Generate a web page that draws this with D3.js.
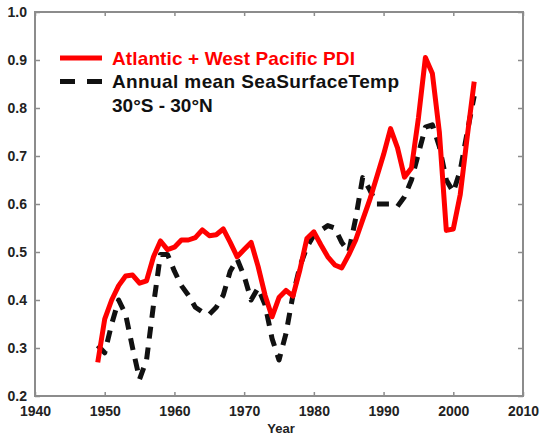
<!DOCTYPE html>
<html>
<head>
<meta charset="utf-8">
<script src="https://cdn.jsdelivr.net/npm/d3@7/dist/d3.min.js"></script>
<style>
  html, body { margin: 0; padding: 0; background: #fff; }
  svg { display: block; }
  text { font-family: "Liberation Sans", Arial, sans-serif; }
</style>
</head>
<body>
<svg id="chart" width="541" height="439"></svg>
<script>
// ---- data ----
const pdiYears = d3.range(1949, 2004);
const pdiValues = [
  0.27, 0.36, 0.40, 0.43, 0.45, 0.452, 0.435, 0.44, 0.49, 0.523,
  0.505, 0.51, 0.525, 0.525, 0.53, 0.546, 0.534, 0.536, 0.548, 0.52,
  0.49, 0.505, 0.52, 0.47, 0.41, 0.365, 0.405, 0.42, 0.408, 0.463,
  0.528, 0.542, 0.515, 0.49, 0.473, 0.467, 0.494, 0.525, 0.567, 0.608,
  0.655, 0.703, 0.757, 0.717, 0.656, 0.675, 0.779, 0.905, 0.872, 0.75,
  0.545, 0.548, 0.62, 0.74, 0.855
];
const sstYears = d3.range(1949, 2004);
const sstValues = [
  0.305, 0.29, 0.35, 0.40, 0.37, 0.30, 0.235, 0.275, 0.39, 0.495,
  0.495, 0.46, 0.43, 0.41, 0.385, 0.375, 0.37, 0.385, 0.41, 0.46,
  0.485, 0.45, 0.40, 0.425, 0.39, 0.32, 0.275, 0.33, 0.41, 0.47,
  0.51, 0.535, 0.545, 0.555, 0.55, 0.52, 0.50, 0.57, 0.655, 0.63,
  0.60, 0.60, 0.60, 0.595, 0.615, 0.65, 0.705, 0.76, 0.765, 0.72,
  0.65, 0.625, 0.67, 0.75, 0.825
];
const xTicks = [1940, 1950, 1960, 1970, 1980, 1990, 2000, 2010];
const yTicks = [0.2, 0.3, 0.4, 0.5, 0.6, 0.7, 0.8, 0.9, 1.0];
const legendLabels = ["Atlantic + West Pacific PDI", "Annual mean SeaSurfaceTemp", "30\u00B0S - 30\u00B0N"];
const xLabel = "Year";

// ---- layout ----
const svg = d3.select("#chart");
const L = 35, R = 523, T = 12, B = 396;
const x = d3.scaleLinear().domain([1940, 2010]).range([L, R]);
const y = d3.scaleLinear().domain([0.2, 1.0]).range([B, T]);
const frameColor = "#8c8c8c";
const red = "#ff0000";
const black = "#111111";

// axes (ticks inward, mirrored)
const gx = svg.append("g").attr("transform", `translate(0,${B})`)
  .call(d3.axisBottom(x).tickValues(xTicks).tickFormat(d3.format("d")).tickSizeInner(-4).tickSizeOuter(0).tickPadding(10));
const gxTop = svg.append("g").attr("transform", `translate(0,${T})`)
  .call(d3.axisTop(x).tickValues(xTicks).tickFormat("").tickSizeInner(-4).tickSizeOuter(0));
const gy = svg.append("g").attr("transform", `translate(${L},0)`)
  .call(d3.axisLeft(y).tickValues(yTicks).tickFormat(d3.format(".1f")).tickSizeInner(-5).tickSizeOuter(0).tickPadding(8));
const gyR = svg.append("g").attr("transform", `translate(${R},0)`)
  .call(d3.axisRight(y).tickValues(yTicks).tickFormat("").tickSizeInner(-5).tickSizeOuter(0));

[gx, gxTop, gy, gyR].forEach(g => {
  g.select(".domain").remove();
  g.selectAll(".tick line").attr("stroke", frameColor).attr("stroke-width", 1.5);
  g.selectAll(".tick text").attr("fill", "#222").attr("font-size", 14).attr("font-weight", "bold")
    .attr("font-family", "'Liberation Sans', Arial, sans-serif");
});

// frame
svg.append("rect").attr("x", L).attr("y", T).attr("width", R - L).attr("height", B - T)
  .attr("fill", "none").attr("stroke", frameColor).attr("stroke-width", 2);

// lines
const pdiData = pdiYears.map((yr, i) => [yr, pdiValues[i]]);
const sstData = sstYears.map((yr, i) => [yr, sstValues[i]]);
const line = d3.line().x(d => x(d[0])).y(d => y(d[1])).curve(d3.curveLinear);

svg.append("path").datum(sstData).attr("d", line)
  .attr("fill", "none").attr("stroke", black).attr("stroke-width", 5)
  .attr("stroke-dasharray", "12,9").attr("stroke-linejoin", "round");

svg.append("path").datum(pdiData).attr("d", line)
  .attr("fill", "none").attr("stroke", red).attr("stroke-width", 5)
  .attr("stroke-linejoin", "round");

// x label
svg.append("text").attr("x", (L + R) / 2 + 2).attr("y", 433).attr("text-anchor", "middle")
  .attr("font-size", 13).attr("font-weight", "bold").attr("fill", "#222").text(xLabel);

// legend
const lg = svg.append("g");
lg.append("line").attr("x1", 60).attr("x2", 102).attr("y1", 58).attr("y2", 58)
  .attr("stroke", red).attr("stroke-width", 5);
lg.append("text").attr("x", 112).attr("y", 65).attr("font-size", 19).attr("font-weight", "bold")
  .attr("fill", red).attr("textLength", 243).attr("lengthAdjust", "spacing").text(legendLabels[0]);
lg.append("line").attr("x1", 60).attr("x2", 102).attr("y1", 81.5).attr("y2", 81.5)
  .attr("stroke", black).attr("stroke-width", 5).attr("stroke-dasharray", "15,12");
lg.append("text").attr("x", 112).attr("y", 88).attr("font-size", 19).attr("font-weight", "bold")
  .attr("fill", black).attr("textLength", 287).attr("lengthAdjust", "spacing").text(legendLabels[1]);
lg.append("text").attr("x", 112).attr("y", 111.5).attr("font-size", 19).attr("font-weight", "bold")
  .attr("fill", black).text(legendLabels[2]);
</script>
</body>
</html>
